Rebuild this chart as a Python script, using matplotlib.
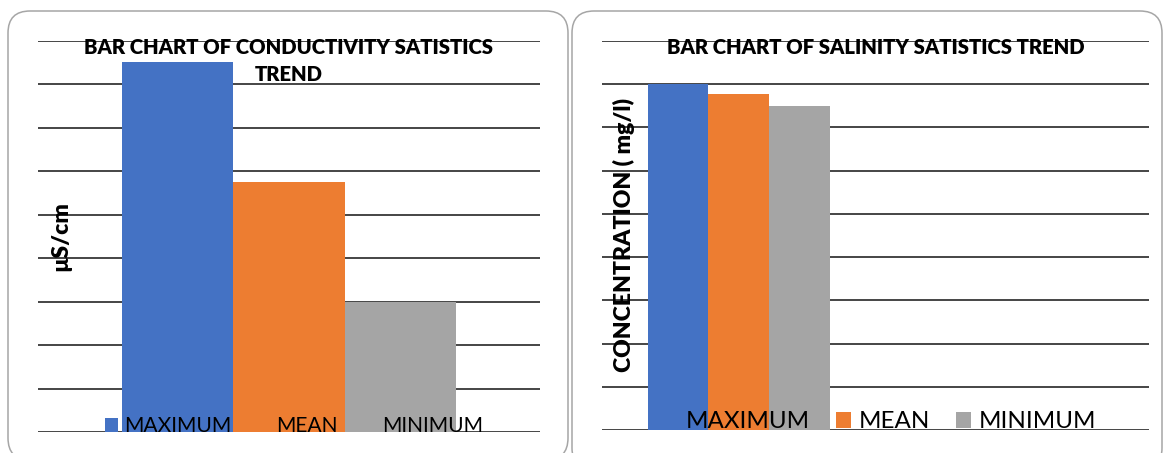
import numpy as np
import matplotlib
matplotlib.use("Agg")
import matplotlib.pyplot as plt
from matplotlib.patches import FancyBboxPatch

# ---- data ----
series = ["MAXIMUM", "MEAN", "MINIMUM"]
colors = ["#4472C4", "#ED7D31", "#A5A5A5"]

cond_categories = ["Conductivity"]
cond_values = [[852], [576], [300]]
cond_ticks = np.arange(0, 901, 100)

sal_categories = ["Salinity", ""]
sal_values = [[400.5, np.nan], [388.5, np.nan], [374.5, np.nan]]  # mg/l
sal_ticks = np.arange(0, 451, 50)

W, H = 1165, 453
fig = plt.figure(figsize=(W / 100, H / 100), dpi=100)
fig.patch.set_facecolor("white")

FONT = ["Lato", "DejaVu Sans"]


def px_ax(x0, x1, ytop, ybot):
    return [x0 / W, 1 - ybot / H, (x1 - x0) / W, (ybot - ytop) / H]


def panel(x0, x1, ytop, ybot):
    # rounded chart-area border drawn in inches
    p = FancyBboxPatch((x0 / 100, (H - ybot) / 100), (x1 - x0) / 100, (ybot - ytop) / 100,
                       boxstyle="round,pad=0,rounding_size=0.22",
                       transform=fig.dpi_scale_trans, facecolor="none",
                       edgecolor="#a6a6a6", linewidth=1.1, zorder=0)
    fig.patches.append(p)


def draw(ax, cats, values, ticks):
    x = np.arange(len(cats))
    bw = 0.667 / len(series)
    for i, (s, v, c) in enumerate(zip(series, values, colors)):
        ax.bar(x + (i - 1) * bw, v, width=bw, color=c, label=s, zorder=2)
    ax.set_xlim(-0.5, len(cats) - 0.5)
    ax.set_ylim(ticks[0], ticks[-1])
    ax.set_yticks(ticks)
    ax.yaxis.grid(True, color="#262626", linewidth=1.2, zorder=1)
    ax.set_axisbelow(True)
    ax.tick_params(left=False, bottom=False, labelleft=False, labelbottom=False)
    for sp in ax.spines.values():
        sp.set_visible(False)


panel(8, 568, 11, 460)
panel(572, 1162, 11, 470)

# Left chart
ax1 = fig.add_axes(px_ax(38, 540, 41, 432))
draw(ax1, cond_categories, cond_values, cond_ticks)
ax1.text(0.5, 1.007, "BAR CHART OF CONDUCTIVITY SATISTICS\nTREND", transform=ax1.transAxes,
         ha="center", va="top", fontsize=14.6, fontweight="heavy", family=FONT,
         linespacing=1.5, zorder=5)
ax1.set_ylabel("µS/cm", fontsize=16.5, fontweight="heavy", family=FONT, va="center", ha="center")
ax1.yaxis.set_label_coords(0.045, 0.5)
ax1.legend(loc="lower center", bbox_to_anchor=(0.51, -0.01), ncol=3, frameon=False,
           prop={"family": FONT, "size": 15.1}, handlelength=0.65, handleheight=0.65,
           handletextpad=0.3, columnspacing=1.18, borderaxespad=0, borderpad=0)

# Right chart
ax2 = fig.add_axes(px_ax(602, 1149, 40.7, 430.3))
draw(ax2, sal_categories, sal_values, sal_ticks)
ax2.text(0.5, 1.007, "BAR CHART OF SALINITY SATISTICS TREND", transform=ax2.transAxes,
         ha="center", va="top", fontsize=14.6, fontweight="heavy", family=FONT, zorder=5)
ax2.set_ylabel("CONCENTRATION ( mg/l)", fontsize=16.6, fontweight="heavy", family=FONT,
               va="center", ha="center")
ax2.yaxis.set_label_coords(0.040, 0.5)
ax2.legend(loc="lower center", bbox_to_anchor=(0.508, -0.005), ncol=3, frameon=False,
           prop={"family": FONT, "size": 17.4}, handlelength=0.62, handleheight=0.62,
           handletextpad=0.3, columnspacing=1.08, borderaxespad=0, borderpad=0)

fig.savefig("out.png", dpi=100, facecolor="white")
